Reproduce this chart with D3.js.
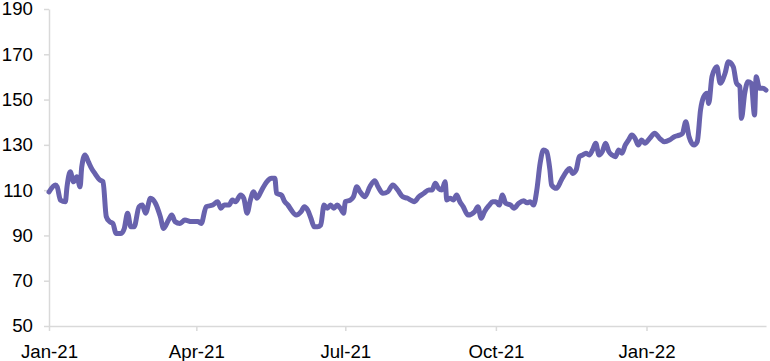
<!DOCTYPE html>
<html>
<head>
<meta charset="utf-8">
<script src="https://cdn.jsdelivr.net/npm/d3@7"></script>
<style>
  html, body { margin: 0; padding: 0; background: #fff; }
  svg { display: block; }
  .axis text { font-family: "Liberation Sans", Arial, sans-serif; font-size: 18.67px; fill: #000; }
  .axis path, .axis line { stroke: #d9d9d9; stroke-width: 1.5; }
</style>
</head>
<body>
<svg id="chart" width="770" height="361"></svg>
<script>
const dates = [
 "2021-01-01","2021-01-05","2021-01-06","2021-01-08","2021-01-11","2021-01-12","2021-01-14","2021-01-16","2021-01-18","2021-01-20",
 "2021-01-21","2021-01-23","2021-01-25","2021-01-27","2021-01-29","2021-02-01","2021-02-03","2021-02-05","2021-02-07","2021-02-09",
 "2021-02-11","2021-02-14","2021-02-16","2021-02-18","2021-02-20","2021-02-22","2021-02-25","2021-02-27","2021-03-01","2021-03-04",
 "2021-03-07","2021-03-10","2021-03-12","2021-03-15","2021-03-17","2021-03-19","2021-03-22","2021-03-25","2021-03-29","2021-04-02",
 "2021-04-04","2021-04-07","2021-04-11","2021-04-14","2021-04-16","2021-04-18","2021-04-21","2021-04-23","2021-04-25","2021-04-28",
 "2021-04-30","2021-05-02","2021-05-04","2021-05-06","2021-05-08","2021-05-11","2021-05-14","2021-05-17","2021-05-19","2021-05-20",
 "2021-05-23","2021-05-25","2021-05-27","2021-05-29","2021-06-01","2021-06-04","2021-06-06","2021-06-08","2021-06-10","2021-06-12",
 "2021-06-14","2021-06-16","2021-06-18","2021-06-20","2021-06-22","2021-06-24","2021-06-26","2021-06-28","2021-06-30","2021-07-01",
 "2021-07-04","2021-07-06","2021-07-08","2021-07-10","2021-07-13","2021-07-16","2021-07-19","2021-07-21","2021-07-24","2021-07-27",
 "2021-07-30","2021-08-02","2021-08-05","2021-08-08","2021-08-10","2021-08-12","2021-08-15","2021-08-18","2021-08-21","2021-08-23",
 "2021-08-25","2021-08-27","2021-08-29","2021-08-31","2021-09-01","2021-09-03","2021-09-05","2021-09-07","2021-09-09","2021-09-11",
 "2021-09-14","2021-09-18","2021-09-20","2021-09-22","2021-09-24","2021-09-27","2021-09-29","2021-10-01","2021-10-03","2021-10-05",
 "2021-10-07","2021-10-10","2021-10-12","2021-10-15","2021-10-18","2021-10-20","2021-10-22","2021-10-24","2021-10-26","2021-10-28",
 "2021-10-30","2021-11-01","2021-11-03","2021-11-04","2021-11-07","2021-11-10","2021-11-13","2021-11-15","2021-11-17","2021-11-19",
 "2021-11-21","2021-11-23","2021-11-25","2021-11-27","2021-11-29","2021-12-01","2021-12-03","2021-12-05","2021-12-07","2021-12-09",
 "2021-12-11","2021-12-13","2021-12-15","2021-12-17","2021-12-19","2021-12-21","2021-12-23","2021-12-25","2021-12-27","2021-12-29",
 "2021-12-31","2022-01-03","2022-01-06","2022-01-09","2022-01-12","2022-01-15","2022-01-18","2022-01-21","2022-01-23","2022-01-25",
 "2022-01-27","2022-01-30","2022-02-01","2022-02-03","2022-02-05","2022-02-07","2022-02-08","2022-02-10","2022-02-13","2022-02-15",
 "2022-02-18","2022-02-20","2022-02-23","2022-02-25","2022-02-27","2022-02-28","2022-03-02","2022-03-04","2022-03-06","2022-03-08",
 "2022-03-09","2022-03-11","2022-03-13","2022-03-15"
];
const values = [
 109.2,112.3,111.5,105.6,104.9,111.5,118.1,113.7,115.9,111.5,
 120.3,125.5,122.6,119.6,117.4,114.5,113.7,98.3,96.1,95.3,
 90.9,90.9,93.1,99.8,93.8,93.8,102.7,103.4,99.8,106.4,
 104.2,98.3,93.1,96.8,99.0,96.1,95.3,96.8,96.1,96.1,
 95.3,102.7,103.4,104.9,102.0,103.4,103.4,105.6,104.9,107.8,
 106.4,99.8,105.6,109.3,106.4,110.1,113.7,115.2,115.2,108.6,
 107.8,104.9,103.4,101.2,99.0,100.5,102.7,101.2,97.6,93.8,
 93.8,94.6,103.4,102.0,103.4,102.0,103.4,102.0,99.8,104.9,
 105.6,107.1,111.5,109.3,107.1,111.5,114.2,111.5,108.6,109.3,
 112.3,110.1,107.1,106.4,105.6,104.9,107.1,108.6,110.1,110.1,
 113.0,110.8,110.1,113.7,105.6,106.4,105.6,107.8,104.9,102.7,
 99.0,100.5,102.7,97.6,100.5,103.4,104.9,104.9,103.4,107.8,
 104.2,103.4,102.0,104.2,105.3,104.4,104.9,103.4,110.1,121.8,
 127.7,127.0,118.9,112.3,110.8,114.5,118.1,119.6,117.4,118.9,
 124.8,125.5,126.3,125.5,127.7,130.7,125.5,127.0,130.7,127.0,
 125.5,124.8,127.7,126.3,129.9,132.1,134.3,132.9,129.9,132.1,
 130.7,132.9,135.1,132.9,131.4,132.1,133.6,134.3,135.1,140.2,
 133.6,129.9,131.4,145.4,151.3,152.8,148.3,160.1,164.5,157.2,
 161.6,166.7,164.5,157.2,155.7,141.7,152.8,157.9,157.2,143.2,
 160.1,155.0,155.0,154.2
];
const yTicks = [50, 70, 90, 110, 130, 150, 170, 190];
const xTickDates = ["2021-01-01","2021-04-01","2021-07-01","2021-10-01","2022-01-01"];
const xTickLabels = ["Jan-21","Apr-21","Jul-21","Oct-21","Jan-22"];

const parse = d3.timeParse("%Y-%m-%d");
const data = dates.map((d, i) => ({ date: parse(d), value: values[i] }));

const svg = d3.select("#chart");
const x = d3.scaleTime()
  .domain([parse("2021-01-01"), parse("2022-03-15")])
  .range([49, 766]);
const y = d3.scaleLinear().domain([50, 190]).range([326, 9]);

const xAxis = d3.axisBottom(x)
  .tickValues(xTickDates.map(parse))
  .tickFormat((d, i) => xTickLabels[i])
  .tickSize(5).tickSizeOuter(0).tickPadding(14);
svg.append("g").attr("class", "axis").attr("transform", "translate(0,326)").call(xAxis);

const yAxis = d3.axisLeft(y)
  .tickValues(yTicks)
  .tickSize(5).tickSizeOuter(0).tickPadding(11);
svg.append("g").attr("class", "axis").attr("transform", "translate(49,0)").call(yAxis);

const line = d3.line().x(d => x(d.date)).y(d => y(d.value)).curve(d3.curveMonotoneX);
svg.append("path")
  .datum(data)
  .attr("fill", "none")
  .attr("stroke", "#6862ad")
  .attr("stroke-width", 5)
  .attr("stroke-linejoin", "round")
  .attr("stroke-linecap", "round")
  .attr("d", line);
</script>
</body>
</html>
